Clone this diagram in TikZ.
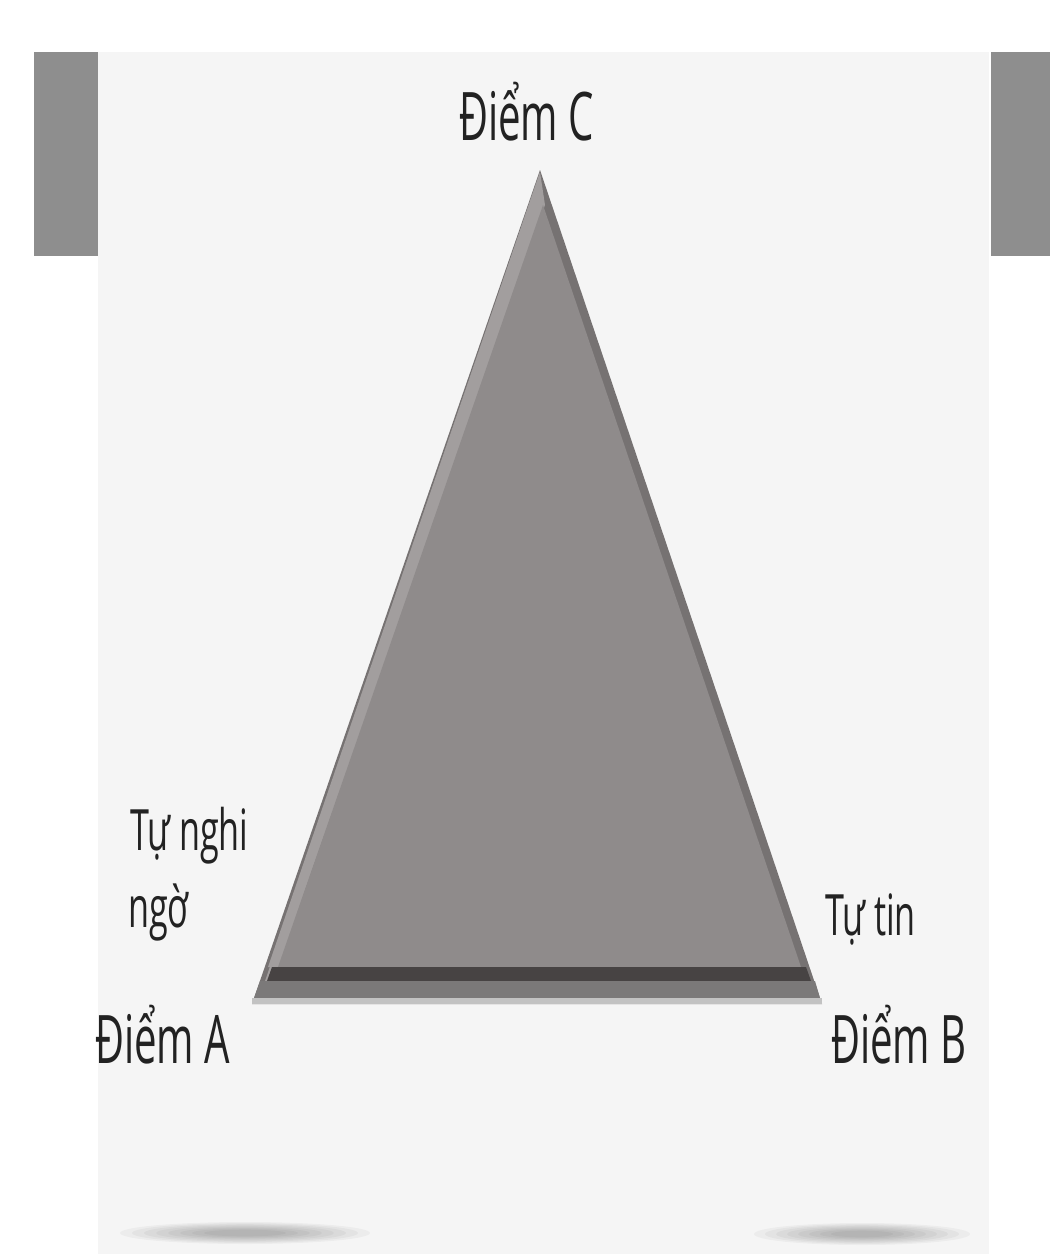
\documentclass[tikz,border=0pt]{standalone}
\usepackage{fontspec}
\newfontfamily\lblfont[FakeStretch=0.6]{Open Sans}
\definecolor{panel}{HTML}{F5F5F5}
\definecolor{bar}{HTML}{8E8E8E}
\definecolor{triout}{HTML}{767272}
\definecolor{trimain}{HTML}{8F8B8B}
\definecolor{trilight}{HTML}{A29E9E}
\definecolor{banddark}{HTML}{474343}
\definecolor{bandmid}{HTML}{7B7979}
\definecolor{bandlight}{HTML}{C2C2C2}
\definecolor{txt}{HTML}{222222}
\tikzset{
  biglbl/.style={inner sep=0pt, anchor=base west, text=txt, font=\lblfont\fontsize{67}{72}\selectfont},
  smalllbl/.style={inner sep=0pt, anchor=base west, text=txt, font=\lblfont\fontsize{57}{62}\selectfont},
}
\begin{document}
\begin{tikzpicture}[x=1pt,y=-1pt]
\useasboundingbox (0,0) rectangle (1064,1254);
\fill[white] (0,0) rectangle (1064,1254);
% panel and bars
\fill[panel] (98,52) rectangle (989,1254);
\fill[bar] (34,52) rectangle (98,256);
\fill[bar] (991,52) rectangle (1050,256);
% triangle
\fill[triout] (540,170) -- (822,1004) -- (252,1004) -- cycle;
\fill[trilight] (540,172) -- (272,990) -- (262,990) -- cycle;
\fill[trilight] (540,172) -- (545,205) -- (278,967) -- (268,967) -- cycle;
\fill[trimain] (543,205) -- (801,967) -- (278,967) -- cycle;
\fill[banddark] (272,967) -- (806,967) -- (811,981) -- (267,981) -- cycle;
\fill[bandmid] (260,981) -- (815,981) -- (820,998) -- (254,998) -- cycle;
\fill[bandlight] (252,998) -- (822,998) -- (822,1004) -- (252,1004) -- cycle;
% bottom shadows
\foreach \k in {0,...,7} {
  \fill[black,opacity=0.035] (245,1233) ellipse ({125-12*\k} and {11-1.1*\k});
  \fill[black,opacity=0.035] (862,1234) ellipse ({108-11*\k} and {11-1.1*\k});
}
% labels
\node[biglbl] (lblC) at (459,140) {Điểm C};
\node[biglbl] (lblA) at (95,1063) {Điểm A};
\node[biglbl] (lblB) at (831,1063) {Điểm B};
\node[smalllbl] (lbldoubt1) at (130,850) {Tự nghi};
\node[smalllbl] (lbldoubt2) at (128,927) {ngờ};
\node[smalllbl] (lblconf) at (825,935) {Tự tin};
\end{tikzpicture}
\end{document}
